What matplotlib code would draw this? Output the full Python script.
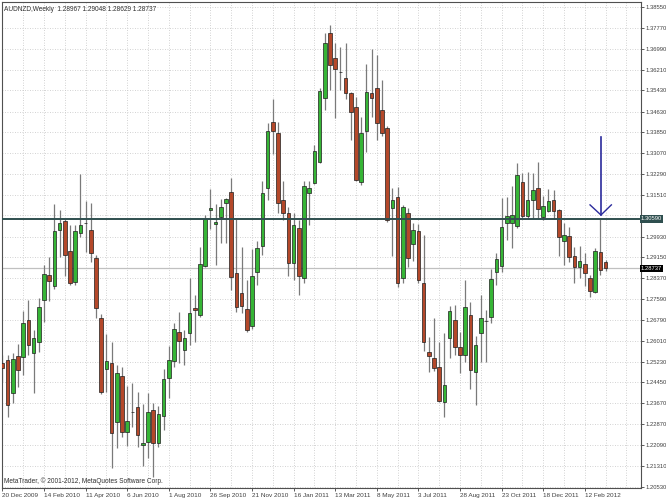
import numpy as np
import matplotlib
matplotlib.use("Agg")
import matplotlib.pyplot as plt
import matplotlib.transforms as mtransforms

plt.rcParams['font.family'] = ['Liberation Sans', 'DejaVu Sans']

title = "AUDNZD,Weekly  1.28967 1.29048 1.28629 1.28737"
copyright_text = "MetaTrader, \u00a9 2001-2012, MetaQuotes Software Corp."

# weekly AUDNZD candles, 20 Dec 2009 .. 11 Mar 2012
opens = [1.2518, 1.2529, 1.2405, 1.2544, 1.2540, 1.2679, 1.2555, 1.2596, 1.2754, 1.2848,
         1.2807, 1.3018, 1.3051, 1.2939, 1.2822, 1.3006, 1.3044, 1.3018, 1.2912, 1.2687,
         1.2495, 1.2518, 1.2296, 1.2469, 1.2258, 1.2333, 1.2352, 1.2209, 1.2220, 1.2341,
         1.2217, 1.2318, 1.2461, 1.2525, 1.2634, 1.2566, 1.2630, 1.2724, 1.2698, 1.2882,
         1.3093, 1.3040, 1.3066, 1.3119, 1.3160, 1.2856, 1.2781, 1.2721, 1.2657, 1.2860,
         1.2957, 1.3176, 1.3424, 1.3382, 1.3130, 1.3082, 1.2894, 1.3025, 1.2837, 1.3157,
         1.3194, 1.3273, 1.3514, 1.3758, 1.3664, 1.3612, 1.3589, 1.3533, 1.3480, 1.3198,
         1.3390, 1.3533, 1.3552, 1.3469, 1.3401, 1.3100, 1.3142, 1.2837, 1.3082, 1.2965,
         1.3014, 1.2818, 1.2559, 1.2536, 1.2502, 1.2371, 1.2612, 1.2679, 1.2578, 1.2548,
         1.2698, 1.2484, 1.2630, 1.2675, 1.2690, 1.2860, 1.2882, 1.3044, 1.3044, 1.3033,
         1.3198, 1.3070, 1.3130, 1.3176, 1.3066, 1.3089, 1.3130, 1.3093, 1.2976, 1.2995,
         1.2920, 1.2878, 1.2890, 1.2837, 1.2784, 1.2935, 1.28967]
highs = [1.2548, 1.2548, 1.2555, 1.2589, 1.2713, 1.2754, 1.2642, 1.2762, 1.2886, 1.2916,
         1.3115, 1.3093, 1.3059, 1.3036, 1.3036, 1.3228, 1.3127, 1.3119, 1.2924, 1.2702,
         1.2627, 1.2596, 1.2510, 1.2502, 1.2431, 1.2442, 1.2408, 1.2363, 1.2405, 1.2367,
         1.2356, 1.2495, 1.2581, 1.2668, 1.2709, 1.2642, 1.2837, 1.2773, 1.2954, 1.3074,
         1.3172, 1.3115, 1.3134, 1.3138, 1.3213, 1.3063, 1.2954, 1.2830, 1.2946, 1.2976,
         1.3202, 1.3420, 1.3510, 1.3424, 1.3202, 1.3104, 1.3082, 1.3055, 1.3202, 1.3202,
         1.3337, 1.3552, 1.3758, 1.3788, 1.3721, 1.3706, 1.3721, 1.3536, 1.3518, 1.3442,
         1.3642, 1.3698, 1.3676, 1.3582, 1.3409, 1.3176, 1.3179, 1.3112, 1.3100, 1.3044,
         1.3040, 1.2999, 1.2615, 1.2687, 1.2596, 1.2630, 1.2732, 1.2736, 1.2634, 1.2830,
         1.2747, 1.2619, 1.2773, 1.2717, 1.2871, 1.2931, 1.3138, 1.3142, 1.3183, 1.3270,
         1.3232, 1.3236, 1.3232, 1.3273, 1.3145, 1.3172, 1.3168, 1.3097, 1.3044, 1.3029,
         1.2954, 1.2957, 1.2931, 1.2848, 1.2950, 1.3059, 1.29048]
lows = [1.2446, 1.2314, 1.2367, 1.2427, 1.2472, 1.2548, 1.2405, 1.2559, 1.2672, 1.2751,
        1.2796, 1.2916, 1.2845, 1.2811, 1.2811, 1.2991, 1.2935, 1.2897, 1.2687, 1.2401,
        1.2408, 1.2123, 1.2198, 1.2239, 1.2205, 1.2277, 1.2202, 1.2130, 1.2160, 1.2089,
        1.2202, 1.2266, 1.2386, 1.2502, 1.2518, 1.2510, 1.2585, 1.2596, 1.2690, 1.2878,
        1.3021, 1.2886, 1.2969, 1.2969, 1.2792, 1.2709, 1.2706, 1.2634, 1.2645, 1.2811,
        1.2924, 1.3130, 1.3303, 1.3082, 1.3055, 1.2845, 1.2830, 1.2773, 1.2818, 1.3036,
        1.3191, 1.3270, 1.3469, 1.3544, 1.3439, 1.3544, 1.3510, 1.3356, 1.3202, 1.3187,
        1.3311, 1.3442, 1.3356, 1.3371, 1.3048, 1.2920, 1.2803, 1.2818, 1.2878, 1.2901,
        1.2818, 1.2563, 1.2484, 1.2487, 1.2371, 1.2314, 1.2536, 1.2548, 1.2480, 1.2521,
        1.2420, 1.2360, 1.2521, 1.2521, 1.2668, 1.2811, 1.2860, 1.2980, 1.2950, 1.3025,
        1.3063, 1.3059, 1.3063, 1.3063, 1.3055, 1.3085, 1.3059, 1.2920, 1.2886, 1.2897,
        1.2818, 1.2837, 1.2807, 1.2766, 1.2781, 1.2848, 1.28629]
closes = [1.2499, 1.2360, 1.2533, 1.2491, 1.2668, 1.2585, 1.2612, 1.2728, 1.2852, 1.2826,
          1.3014, 1.3044, 1.2924, 1.2818, 1.3014, 1.3036, 1.3043, 1.2931, 1.2724, 1.2408,
          1.2525, 1.2254, 1.2480, 1.2258, 1.2299, 1.2332, 1.2247, 1.2217, 1.2333, 1.2217,
          1.2326, 1.2457, 1.2529, 1.2645, 1.2600, 1.2612, 1.2706, 1.2717, 1.2890, 1.3059,
          1.3100, 1.3048, 1.3104, 1.3134, 1.2841, 1.2728, 1.2732, 1.2642, 1.2845, 1.2950,
          1.3157, 1.3390, 1.3390, 1.3119, 1.3082, 1.2894, 1.3036, 1.2845, 1.3183, 1.3176,
          1.3315, 1.3540, 1.3721, 1.3638, 1.3623, 1.3611, 1.3533, 1.3461, 1.3206, 1.3382,
          1.3536, 1.3514, 1.3420, 1.3382, 1.3055, 1.3130, 1.2818, 1.3104, 1.2912, 1.3018,
          1.2830, 1.2596, 1.2544, 1.2499, 1.2375, 1.2435, 1.2713, 1.2578, 1.2548, 1.2728,
          1.2491, 1.2585, 1.2687, 1.2676, 1.2833, 1.2909, 1.3029, 1.3070, 1.3074, 1.3224,
          1.3070, 1.3130, 1.3168, 1.3097, 1.3108, 1.3127, 1.3089, 1.2991, 1.2999, 1.2916,
          1.2878, 1.2901, 1.2856, 1.2788, 1.2939, 1.2867, 1.28737]

date_labels = ["20 Dec 2009", "14 Feb 2010", "11 Apr 2010", "6 Jun 2010", "1 Aug 2010",
               "26 Sep 2010", "21 Nov 2010", "16 Jan 2011", "13 Mar 2011", "8 May 2011",
               "3 Jul 2011", "28 Aug 2011", "23 Oct 2011", "18 Dec 2011", "12 Feb 2012"]
price_ticks = [1.38550, 1.37770, 1.36990, 1.36210, 1.35430, 1.34630, 1.33850, 1.33070,
               1.32290, 1.31510, 1.30730, 1.29930, 1.29150, 1.28370, 1.27590, 1.26790,
               1.26010, 1.25230, 1.24450, 1.23670, 1.22870, 1.22090, 1.21310, 1.20530]
hline_level = 1.30590
bid_level = 1.28737
# hand drawn arrow (bar index, price)
arrow_bar = 115.1
arrow_top = 1.3367
arrow_tip = 1.3074
arrow_arm = 1.3112


def main():
    fig = plt.figure(figsize=(6.66, 5.0), dpi=100)
    ax = fig.add_axes([1.7 / 666, 12 / 500, 639.3 / 666, 486.3 / 500])

    o = np.array(opens)
    h = np.array(highs)
    l = np.array(lows)
    c = np.array(closes)
    x = np.arange(len(o))
    up = c >= o

    grid_kw = dict(color='#c4c4c4', lw=0.6, ls=(0, (1, 2)), zorder=0)
    for p in price_ticks:
        ax.axhline(p, **grid_kw)
    for v in range(0, 124, 4):
        ax.axvline(v, **grid_kw)

    ax.axhline(bid_level, color='#c0c0c0', lw=0.9, zorder=1)

    ax.vlines(x, l, h, color='#7a7a7a', lw=0.9, zorder=2)
    body_h = np.maximum(np.abs(c - o), 0.00004)
    ax.bar(x, body_h, 0.7, bottom=np.minimum(o, c),
           color=np.where(up, '#36b536', '#b4482a'),
           edgecolor='#1e1e1e', linewidth=0.5, zorder=3)

    ax.axhline(hline_level, color='#2f4f4f', lw=1.4, zorder=4)

    ax.plot([arrow_bar, arrow_bar], [arrow_top, arrow_tip], color='#2b2b9c', lw=1.2, zorder=5)
    ax.plot([arrow_bar - 2.1, arrow_bar, arrow_bar + 2.0], [arrow_arm, arrow_tip, arrow_arm],
            color='#2b2b9c', lw=1.0, zorder=5)

    ax.set_xlim(-0.12, 122.8)
    ax.set_ylim(1.20475, 1.3876)

    # the 1.30730 label sits under the line box
    ylabels = ['' if abs(p - 1.30730) < 1e-6 else '%.5f' % p for p in price_ticks]
    ax.yaxis.tick_right()
    ax.set_yticks(price_ticks)
    ax.set_yticklabels(ylabels)
    ax.set_xticks(range(0, len(o), 8))
    ax.set_xticklabels(date_labels, ha='left')
    ax.tick_params(axis='y', direction='out', length=2, width=0.6, color='#404040',
                   labelsize=4.2, labelcolor='#404040', pad=1)
    ax.tick_params(axis='x', direction='out', length=2.5, width=0.6, color='#404040',
                   labelsize=4.6, labelcolor='#404040', pad=1)
    for s in ax.spines.values():
        s.set_color('#505050')
        s.set_linewidth(0.8)

    trans = mtransforms.blended_transform_factory(ax.transAxes, ax.transData)
    ax.text(1.0, hline_level, '%.5f' % hline_level, transform=trans, ha='left', va='center',
            fontsize=4.2, color='white', zorder=6, clip_on=False,
            bbox=dict(facecolor='#2f4f4f', edgecolor='none', pad=0.8))
    ax.text(1.0, bid_level, '%.5f' % bid_level, transform=trans, ha='left', va='center',
            fontsize=4.2, color='white', zorder=6, clip_on=False,
            bbox=dict(facecolor='black', edgecolor='none', pad=0.8))

    ax.text(0.004, 0.992, title, transform=ax.transAxes, ha='left', va='top',
            fontsize=4.7, color='#303030')
    ax.text(0.004, 0.006, copyright_text, transform=ax.transAxes, ha='left', va='bottom',
            fontsize=4.7, color='#303030')

    plt.savefig('out.png', dpi=100, facecolor='white')
    plt.clf()


if __name__ == '__main__':
    main()
